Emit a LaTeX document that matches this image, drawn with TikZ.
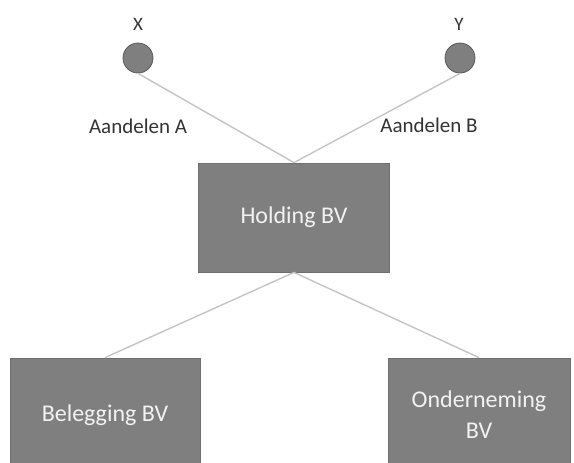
\documentclass[tikz,border=0pt]{standalone}
\usepackage{fontspec}
\setmainfont{Carlito}
\definecolor{boxgray}{HTML}{7F7F7F}
\definecolor{boxedge}{HTML}{6E6E6E}
\definecolor{boxtext}{HTML}{F2F2F2}
\definecolor{dotedge}{HTML}{5A5A5A}
\definecolor{linegray}{HTML}{C4C4C4}
\definecolor{labelgray}{HTML}{333333}
\begin{document}
\begin{tikzpicture}[x=0.5pt,y=-0.5pt]
      \useasboundingbox (0,0) rectangle (574,462);
      \begin{scope}[every node/.style={circle,draw=dotedge,fill=boxgray,minimum size=15pt,inner sep=0pt}]
        \node (x) at (138,58) {};
        \node (y) at (460,58) {};
      \end{scope}
      \begin{scope}[every node/.style={text=labelgray,inner sep=0pt}]
        \node[font=\fontsize{9.5}{11}\selectfont] (xlabel) at (138,24) {X};
        \node[font=\fontsize{9.5}{11}\selectfont] (ylabel) at (459,24) {Y};
        \node[font=\fontsize{10.5}{12}\selectfont] (alabel) at (138,126) {Aandelen A};
        \node[font=\fontsize{10.5}{12}\selectfont] (blabel) at (429,125) {Aandelen B};
      \end{scope}
      \begin{scope}[every node/.style={draw=boxedge,fill=boxgray,text=boxtext,align=center,inner sep=0pt,font=\fontsize{12}{15.5}\selectfont}]
        \node[minimum width=95.5pt,minimum height=54.5pt] (holding) at (294,217.5) {Holding BV};
        \node[minimum width=95pt,minimum height=57pt] (belegging) at (105,415) {Belegging BV};
        \node[minimum width=91pt,minimum height=57pt] (onderneming) at (479,415) {Onderneming\\BV};
      \end{scope}
      \begin{scope}[every edge/.style={draw,line width=0.7pt,color=linegray}]
        \path (x.south) edge (holding.north);
        \path (y.south) edge (holding.north);
        \path (holding.south) edge (belegging.north);
        \path (holding.south) edge (onderneming.north);
      \end{scope}
    \end{tikzpicture}
\end{document}
